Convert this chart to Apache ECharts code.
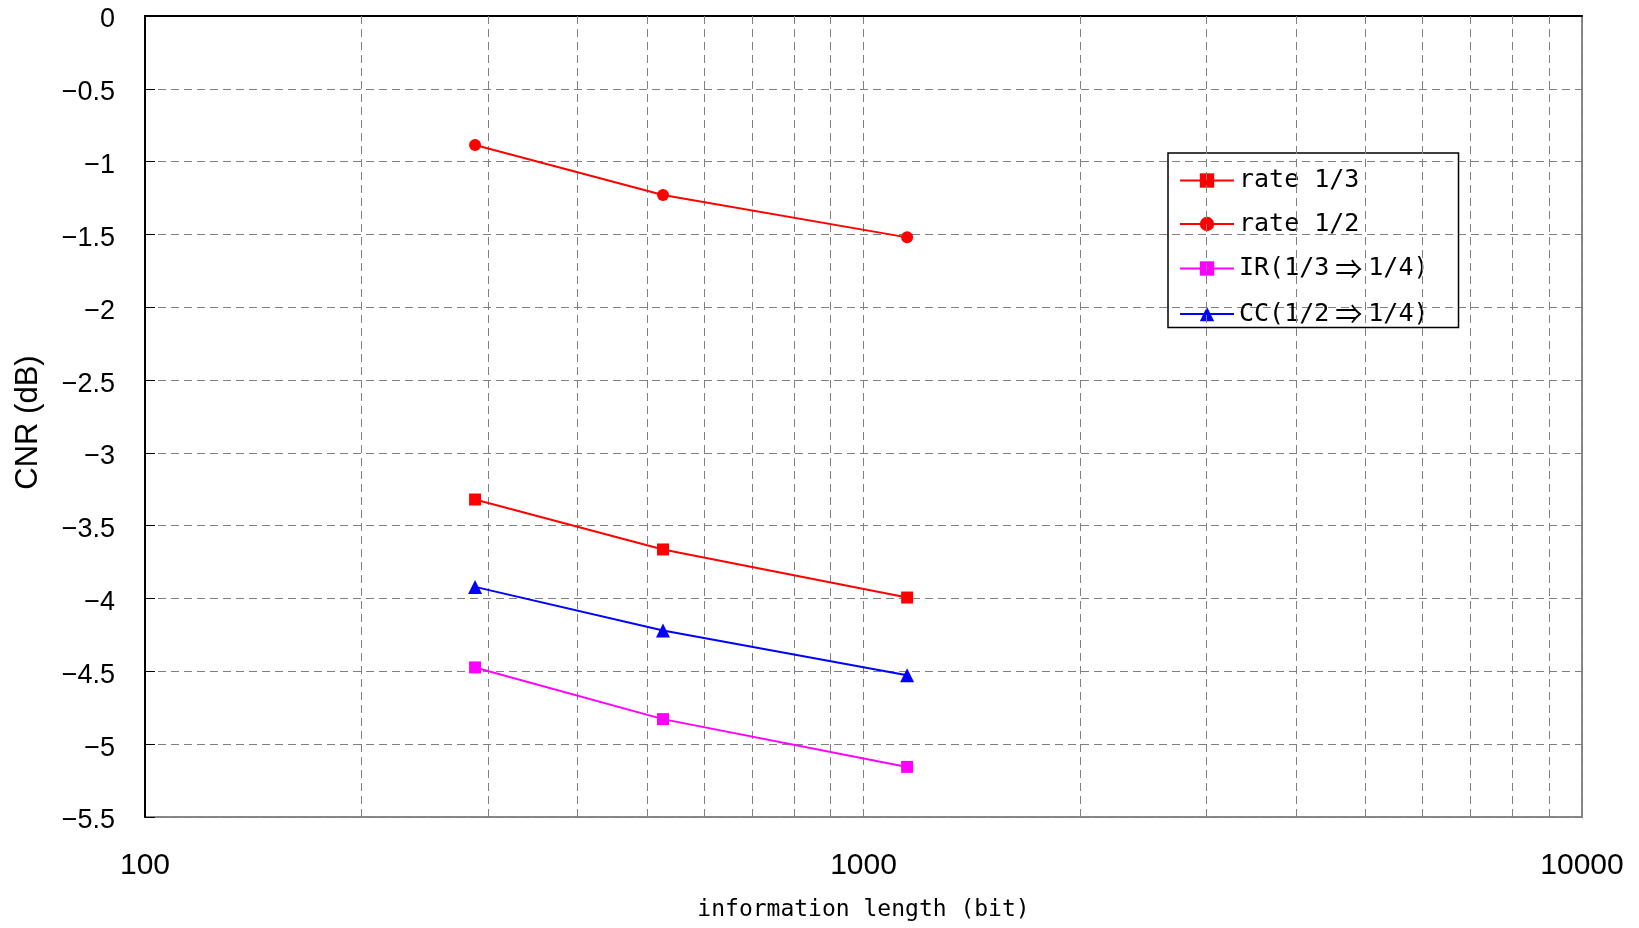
<!DOCTYPE html>
<html><head><meta charset="utf-8">
<script src="https://cdn.jsdelivr.net/npm/echarts@6/dist/echarts.min.js"></script>
<style>html,body{margin:0;padding:0;background:#fff}#c{width:1639px;height:928px}</style>
</head><body><div id="c"></div>
<script>
const infoLength = [288, 526, 1150];
const rate13 = [-3.32, -3.663, -3.993];
const rate12 = [-0.886, -1.229, -1.52];
const ir = [-4.473, -4.828, -5.156];
const cc = [-3.92, -4.22, -4.526];
const minorGrid = [200,300,400,500,600,700,800,900,2000,3000,4000,5000,6000,7000,8000,9000];
const names = ['rate 1/3', 'rate 1/2', 'IR(1/3⇒1/4)', 'CC(1/2⇒1/4)'];

const MONO = '"DejaVu Sans Mono", "Noto Sans CJK JP", monospace';
const CJK = '"Noto Sans CJK JP", sans-serif';
const SANS = '"Liberation Sans", Arial, sans-serif';
const pair = (ys) => infoLength.map((x, i) => [x, ys[i]]);
const mk = (name, ys, color, symbol, size) => ({
  name, type: 'line', data: pair(ys), symbol, symbolSize: size,
  lineStyle: { color, width: 2 }, itemStyle: { color }, z: 5
});
const chart = echarts.init(document.getElementById('c'));
chart.setOption({
  animation: false,
  grid: { left: 145, top: 16, right: 57, bottom: 111, show: true, borderColor: '#888', borderWidth: 2 },
  legend: {
    orient: 'vertical', left: 1168, top: 153, itemGap: 18.5,
    data: names,
    itemWidth: 54, itemHeight: 18,
    borderColor: '#000', borderWidth: 1.5, padding: [15, 30, 0, 11],
    formatter: n => n.replace('⇒', '{a|⇒}'),
    textStyle: { fontFamily: MONO, fontSize: 25, color: '#000',
      rich: { a: { fontFamily: CJK, fontSize: 27, color: '#000', padding: [0, 6, 0, 6] } } }
  },
  xAxis: {
    type: 'log', logBase: 10, min: 100, max: 10000,
    name: 'information length (bit)', nameLocation: 'middle', nameGap: 82,
    nameTextStyle: { fontFamily: MONO, fontSize: 23, color: '#000' },
    axisLine: { lineStyle: { color: '#000', width: 2 } },
    axisTick: { show: false },
    axisLabel: { fontFamily: SANS, fontSize: 30, color: '#000', margin: 34,
      formatter: v => String(Math.round(v)) },
    splitLine: { show: true, lineStyle: { color: '#808080', type: [8, 5], width: 1 } }
  },
  yAxis: {
    type: 'value', min: -5.5, max: 0, interval: 0.5,
    name: 'CNR (dB)', nameLocation: 'middle', nameGap: 101,
    nameTextStyle: { fontFamily: SANS, fontSize: 31, color: '#000', padding: [0, 12, 0, 0] },
    axisLine: { lineStyle: { color: '#000', width: 2 } },
    axisTick: { show: true, inside: true, length: 10, lineStyle: { color: '#000' } },
    axisLabel: { color: '#000', margin: 30,
      formatter: v => '{t|' + String(v).replace('-', '\u2212') + '}',
      rich: { t: { fontFamily: SANS, fontSize: 27, color: '#000', padding: [8, 0, 0, 0] } } },
    splitLine: { show: true, lineStyle: { color: '#808080', type: [8, 5], width: 1 } }
  },
  series: [
    mk(names[0], rate13, '#ff0000', 'rect', 12),
    mk(names[1], rate12, '#ff0000', 'circle', 12),
    mk(names[2], ir, '#ff00ff', 'rect', 12),
    mk(names[3], cc, '#0000ff', 'triangle', 14),
    {
      type: 'line', data: [], silent: true,
      markLine: {
        silent: true, symbol: 'none', label: { show: false },
        lineStyle: { color: '#808080', type: [8, 5], width: 1 },
        data: minorGrid.map(v => ({ xAxis: v }))
      }
    }
  ]
});
</script></body></html>
